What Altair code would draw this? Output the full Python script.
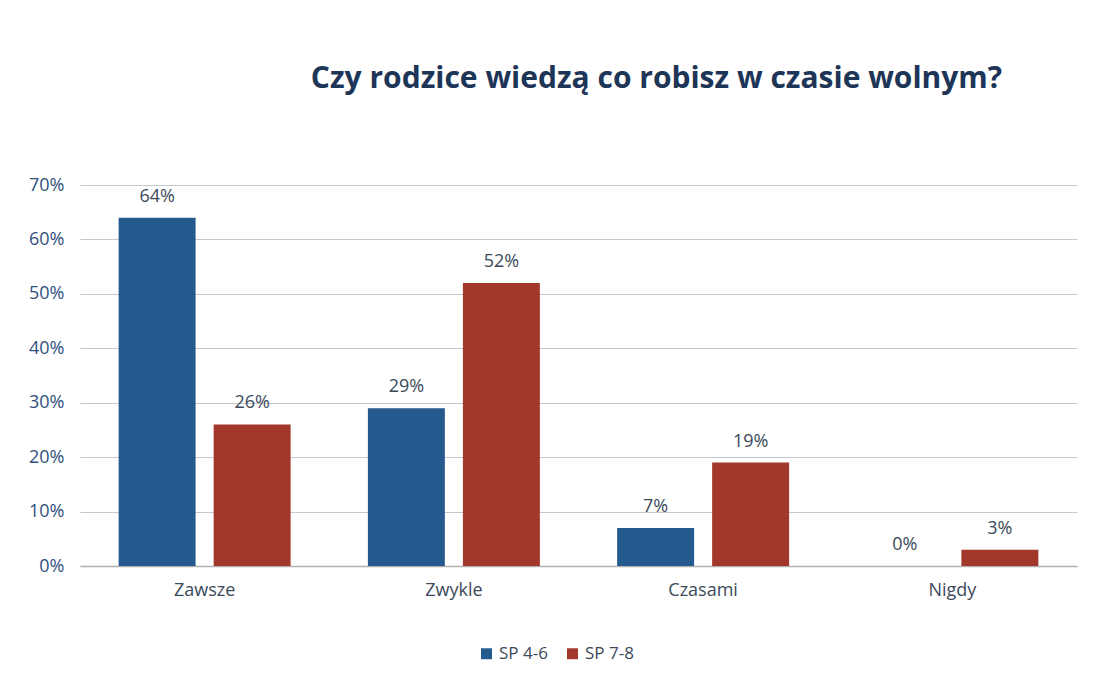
import altair as alt
import pandas as pd

categories = ["Zawsze", "Zwykle", "Czasami", "Nigdy"]
series = ["SP 4-6", "SP 7-8"]
sp46 = [64, 29, 7, 0]
sp78 = [26, 52, 19, 3]
colors = ["#245A8E", "#A2382B"]

rows = []
for i, c in enumerate(categories):
    rows.append({"kat": c, "grupa": series[0], "v": sp46[i] / 100, "lab": f"{sp46[i]}%"})
    rows.append({"kat": c, "grupa": series[1], "v": sp78[i] / 100, "lab": f"{sp78[i]}%"})
df = pd.DataFrame(rows)

FONT = "Open Sans"

x = alt.X("kat:N", sort=categories, title=None,
          scale=alt.Scale(paddingInner=0.31, paddingOuter=0.155),
          axis=alt.Axis(labelAngle=0, labelFontSize=18, labelColor="#3b4a5a", labelFont=FONT,
                        labelPadding=15, ticks=False, domainColor="#b0b0b0", domainWidth=1.5))
xo = alt.XOffset("grupa:N", sort=series, scale=alt.Scale(paddingInner=0.19, paddingOuter=0))
y = alt.Y("v:Q", title=None,
          scale=alt.Scale(domain=[0, 0.7]),
          axis=alt.Axis(format=".0%", values=[0, .1, .2, .3, .4, .5, .6, .7], labelFontSize=18,
                        labelColor="#2f4f7f", labelFont=FONT, labelPadding=16, ticks=False,
                        domain=False, gridColor="#c4c8cc", gridWidth=1.2))
color = alt.Color("grupa:N", sort=series, scale=alt.Scale(domain=series, range=colors),
                  legend=alt.Legend(title=None, orient="none", legendX=398, legendY=460,
                                    direction="horizontal", symbolType="square", symbolSize=120,
                                    labelFontSize=17, labelColor="#3b4a5a", labelFont=FONT,
                                    columnPadding=16, symbolStrokeWidth=0))

base = alt.Chart(df).encode(x=x, xOffset=xo)
bars = base.mark_bar().encode(y=y, color=color)
labels = base.mark_text(dy=-21, fontSize=18, color="#3b4a5a", font=FONT).encode(y=y, text="lab:N")

chart = (bars + labels).properties(
    width=997, height=381,
    autosize=alt.AutoSizeParams(type="none"),
    padding={"left": 72, "top": 177, "right": 12, "bottom": 112},
    title=alt.TitleParams("Czy rodzice wiedzą co robisz w czasie wolnym?", font=FONT,
                          fontSize=30, fontWeight="bold", color="#1d3557", anchor="middle",
                          dx=78, offset=82),
).configure(background="white").configure_view(stroke=None)

chart.save("out.html", embed_options={"renderer": "svg", "actions": False})
